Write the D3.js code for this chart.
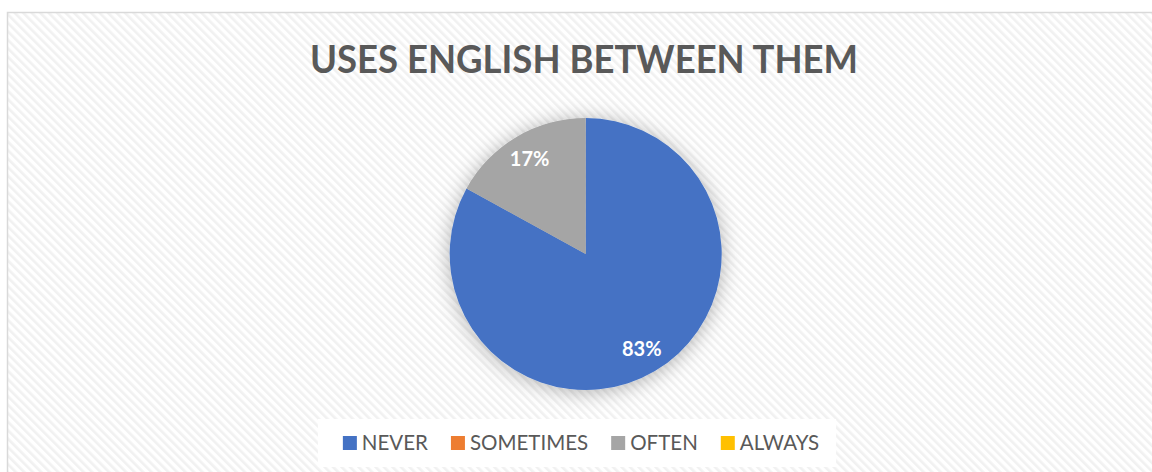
<!DOCTYPE html>
<html>
<head>
<meta charset="utf-8">
<script src="https://cdn.jsdelivr.net/npm/d3@7"></script>
<style>
  html, body { margin: 0; padding: 0; background: #ffffff; }
  svg { display: block; }
</style>
</head>
<body>
<svg id="chart" width="1152" height="472"></svg>
<script>
// Survey answers and their shares (percent)
const categories = ["NEVER", "SOMETIMES", "OFTEN", "ALWAYS"];
const shares = [83, 0, 17, 0];
const colors = ["#4472C4", "#ED7D31", "#A5A5A5", "#FFC000"];
const chartTitle = "USES ENGLISH BETWEEN THEM";

const W = 1152, H = 472;
const svg = d3.select("#chart");
const defs = svg.append("defs");

// Diagonal hatch (top-left to bottom-right) for the chart area background
const hatch = defs.append("pattern")
  .attr("id", "hatch")
  .attr("patternUnits", "userSpaceOnUse")
  .attr("width", 6).attr("height", 6)
  .attr("patternTransform", "rotate(-45)");
hatch.append("rect").attr("width", 6).attr("height", 6).attr("fill", "#ffffff");
hatch.append("rect").attr("x", 0).attr("width", 2.6).attr("height", 6).attr("fill", "#f1f1f1");

// Soft shadow under the pie
const shadow = defs.append("filter")
  .attr("id", "pieShadow")
  .attr("x", "-30%").attr("y", "-30%").attr("width", "160%").attr("height", "160%");
shadow.append("feDropShadow")
  .attr("dx", 0).attr("dy", 2)
  .attr("stdDeviation", 10)
  .attr("flood-color", "#000000")
  .attr("flood-opacity", 0.3);

// Chart area with border
svg.append("rect")
  .attr("x", 7.5).attr("y", 12.5)
  .attr("width", W + 20).attr("height", H + 20)
  .attr("fill", "url(#hatch)")
  .attr("stroke", "#d9d9d9").attr("stroke-width", 1.5);

// Title
svg.append("text")
  .attr("x", 584).attr("y", 73)
  .attr("text-anchor", "middle")
  .attr("font-family", "Lato, 'Open Sans', sans-serif")
  .attr("font-weight", 700)
  .attr("font-size", 39)
  .attr("fill", "#595959")
  .attr("textLength", 548)
  .attr("lengthAdjust", "spacingAndGlyphs")
  .text(chartTitle);

// Pie
const cx = 585.7, cy = 254, radius = 136;
const data = categories.map((c, i) => ({ cat: c, value: shares[i], color: colors[i] }));
const pie = d3.pie().sort(null).value(d => d.value);
const arcs = pie(data);
const arc = d3.arc().innerRadius(0).outerRadius(radius);
const labelArc = d3.arc().innerRadius(radius * 0.81).outerRadius(radius * 0.81);

const g = svg.append("g").attr("transform", `translate(${cx},${cy})`);
g.append("g").attr("filter", "url(#pieShadow)")
  .selectAll("path")
  .data(arcs.filter(a => a.data.value > 0))
  .join("path")
  .attr("d", arc)
  .attr("fill", d => d.data.color);

g.selectAll("text.lbl")
  .data(arcs.filter(a => a.data.value > 0))
  .join("text")
  .attr("class", "lbl")
  .attr("transform", d => `translate(${labelArc.centroid(d)})`)
  .attr("text-anchor", "middle")
  .attr("dy", "0.36em")
  .attr("font-family", "Lato, 'Open Sans', sans-serif")
  .attr("font-weight", 700)
  .attr("font-size", 20)
  .attr("fill", "#ffffff")
  .text(d => d3.format(".0f")(d.data.value) + "%");

// Legend
const legend = svg.append("g");
const legendBg = legend.append("rect").attr("fill", "#ffffff");
const items = legend.selectAll("g.item").data(data).join("g").attr("class", "item");
items.append("rect")
  .attr("width", 14).attr("height", 14)
  .attr("y", -14)
  .attr("fill", d => d.color);
items.append("text")
  .attr("x", 19)
  .attr("font-family", "Lato, 'Open Sans', sans-serif")
  .attr("font-size", 20.5)
  .attr("fill", "#595959")
  .text(d => d.cat);

let xPos = 0;
const gap = 23;
items.each(function () {
  const t = d3.select(this).select("text").node().getComputedTextLength();
  d3.select(this).attr("transform", `translate(${xPos},0)`);
  xPos += 19 + t + gap;
});
const legendW = xPos - gap;
const legendX = 581 - legendW / 2, legendY = 450;
legend.attr("transform", `translate(${legendX},${legendY})`);
legendBg.attr("x", -25).attr("y", -31)
  .attr("width", legendW + 42).attr("height", 48);
</script>
</body>
</html>
